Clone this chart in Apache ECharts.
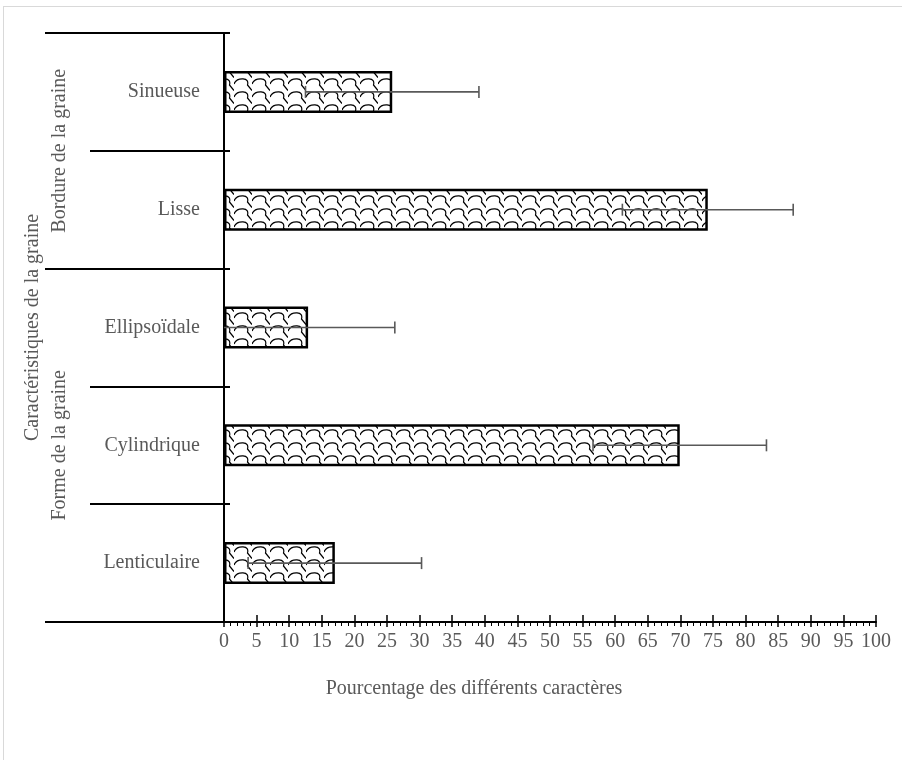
<!DOCTYPE html>
<html>
<head>
<meta charset="utf-8">
<script src="https://cdn.jsdelivr.net/npm/echarts@6/dist/echarts.min.js"></script>
<style>
html,body{margin:0;padding:0;background:#fff;overflow:hidden;}
#frame{position:absolute;left:3px;top:6px;width:1000px;height:1000px;border:1px solid #d9d9d9;}
#chart{position:absolute;left:0;top:0;width:902px;height:760px;}
</style>
</head>
<body>
<div id="frame"></div>
<div id="chart"></div>
<script>
// ---- data (bottom to top) ----
const categories = ['Lenticulaire', 'Cylindrique', 'Ellipsoïdale', 'Lisse', 'Sinueuse'];
const values = [17.0, 69.9, 12.9, 74.2, 25.8];
const errors = [13.3, 13.3, 13.3, 13.1, 13.3];
const groupNames = ['Forme de la graine', 'Bordure de la graine'];
const groupStarts = [0, 3];   // first category index of each group
const groupEnds = [2, 4];     // last category index of each group
const xMin = 0, xMax = 100, xStep = 5;
const yTitle = 'Caractéristiques de la graine';
const xTitle = 'Pourcentage des différents caractères';

const FONT = '"Liberation Serif", "DejaVu Serif", serif';
const GREY = '#595959';

// shingle pattern tile
function makePattern() {
  const c = document.createElement('canvas');
  c.width = 18; c.height = 13;
  const g = c.getContext('2d');
  g.fillStyle = '#fff';
  g.fillRect(0, 0, 18, 13);
  g.strokeStyle = '#000';
  g.lineWidth = 1.2;
  g.beginPath();
  g.moveTo(0, 6);
  g.quadraticCurveTo(2, 0.5, 9, 0.8);
  g.quadraticCurveTo(15, 1.2, 13.5, 7);
  g.lineTo(18, 12.5);
  g.stroke();
  g.beginPath();
  g.moveTo(-4, 1);
  g.lineTo(0, 6);
  g.stroke();
  return c;
}
const pattern = {image: makePattern(), repeat: 'repeat'};

const errData = values.map((v, i) => [v - errors[i], v + errors[i], i]);

const chart = echarts.init(document.getElementById('chart'), null, {renderer: 'canvas'});

const yBase = {
  type: 'category',
  data: categories,
  position: 'left',
  boundaryGap: true,
  axisLabel: {show: false},
  axisLine: {show: false},
  splitLine: {show: false}
};

const xBase = {
  type: 'value',
  min: xMin, max: xMax, interval: xStep,
  position: 'bottom',
  splitLine: {show: false}
};

chart.setOption({
  animation: false,
  backgroundColor: 'transparent',
  grid: {left: 224, right: 26, top: 33, bottom: 138, containLabel: false},
  xAxis: [
    Object.assign({}, xBase, {
      axisLine: {show: true, lineStyle: {color: '#000', width: 2}},
      axisTick: {show: true, inside: false, length: 5, lineStyle: {color: '#000', width: 1.5}},
      minorTick: {show: true, splitNumber: 5, length: 4, lineStyle: {color: '#000', width: 1}},
      axisLabel: {show: true, margin: 10, color: GREY, fontFamily: FONT, fontSize: 20}
    }),
    Object.assign({}, xBase, {
      axisLine: {show: false},
      axisTick: {show: true, inside: true, length: 7, lineStyle: {color: '#000', width: 1.5}},
      axisLabel: {show: false}
    })
  ],
  yAxis: [
    Object.assign({}, yBase, {
      axisLine: {show: true, onZero: false, lineStyle: {color: '#000', width: 2}},
      axisTick: {show: true, inside: false, length: 134, lineStyle: {color: '#000', width: 2}},
      axisLabel: {show: true, margin: 24, color: GREY, fontFamily: FONT, fontSize: 20}
    }),
    Object.assign({}, yBase, {
      axisTick: {show: true, inside: false, length: 179,
        interval: (idx) => groupStarts.indexOf(idx) >= 0,
        lineStyle: {color: '#000', width: 2}}
    }),
    Object.assign({}, yBase, {
      axisTick: {show: true, inside: true, length: 6, lineStyle: {color: '#000', width: 2}}
    })
  ],
  series: [
    {
      type: 'bar',
      xAxisIndex: 0, yAxisIndex: 0,
      data: values,
      barWidth: 42,
      itemStyle: {color: pattern, borderColor: '#000', borderWidth: 2.5},
      z: 2
    },
    {
      type: 'custom',
      xAxisIndex: 0, yAxisIndex: 0,
      data: errData,
      encode: {x: [0, 1], y: 2},
      clip: true,
      z: 5,
      renderItem: function (params, api) {
        const lo = api.coord([api.value(0), api.value(2)]);
        const hi = api.coord([api.value(1), api.value(2)]);
        const h = 6;
        const st = {stroke: GREY, lineWidth: 1.6};
        return {
          type: 'group',
          children: [
            {type: 'line', shape: {x1: lo[0], y1: lo[1], x2: hi[0], y2: hi[1]}, style: st},
            {type: 'line', shape: {x1: lo[0], y1: lo[1] - h, x2: lo[0], y2: lo[1] + h}, style: st},
            {type: 'line', shape: {x1: hi[0], y1: hi[1] - h, x2: hi[0], y2: hi[1] + h}, style: st}
          ]
        };
      }
    }
  ]
});

// titles and group labels, positioned from the axes
const gridRect = {top: 33, bottom: 760 - 138};
const graphics = [
  {
    type: 'text', x: 33, y: (gridRect.top + gridRect.bottom) / 2, rotation: Math.PI / 2,
    style: {text: yTitle, fill: GREY, font: '20px ' + FONT, align: 'center', verticalAlign: 'middle'}
  },
  {
    type: 'text', x: 474, y: 689,
    style: {text: xTitle, fill: GREY, font: '20px ' + FONT, align: 'center', verticalAlign: 'middle'}
  }
];
groupNames.forEach((name, gi) => {
  const y1 = chart.convertToPixel({yAxisIndex: 0}, groupStarts[gi]);
  const y2 = chart.convertToPixel({yAxisIndex: 0}, groupEnds[gi]);
  graphics.push({
    type: 'text', x: 60, y: (y1 + y2) / 2, rotation: Math.PI / 2,
    style: {text: name, fill: GREY, font: '20px ' + FONT, align: 'center', verticalAlign: 'middle'}
  });
});
chart.setOption({graphic: graphics});
</script>
</body>
</html>
